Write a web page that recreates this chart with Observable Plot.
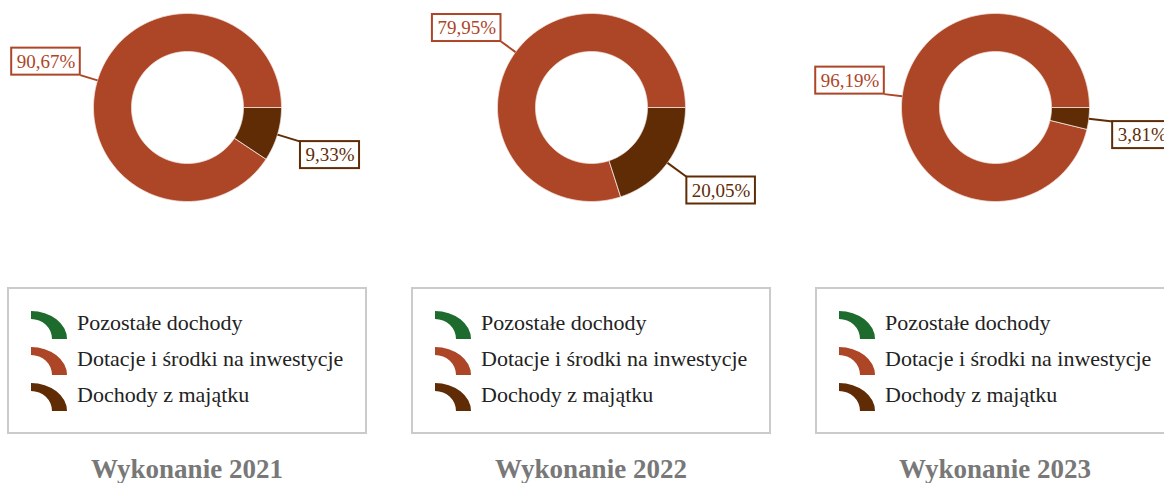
<!DOCTYPE html>
<html><head><meta charset="utf-8">
<script src="https://cdn.jsdelivr.net/npm/d3@7"></script>
<script src="https://cdn.jsdelivr.net/npm/@observablehq/plot@0.6"></script>
<style>
body{margin:0;width:1164px;height:483px;overflow:hidden;background:#fff;font-family:"Liberation Serif","Times New Roman",serif;position:relative;}
.panel{position:absolute;top:0;width:404px;height:483px;}
.panel svg{overflow:visible;}
.chart{position:absolute;left:0;top:0;}
.legend{position:absolute;left:7px;top:287px;width:356px;height:143px;border:2px solid #cbcbcb;}
.sw{position:absolute;left:31px;width:37px;height:29px;}
.lt{position:absolute;left:77px;font-size:22px;line-height:22px;color:#222;white-space:nowrap;}
.title{position:absolute;left:0;width:374px;text-align:center;font-weight:bold;font-size:27px;line-height:27px;color:#787878;white-space:nowrap;}
</style></head>
<body>
<script>
// ---- data ----
const categories = ["Pozostałe dochody", "Dotacje i środki na inwestycje", "Dochody z majątku"];
const colors = ["#1e6b2e", "#ad4527", "#5f2c06"];
const years = ["2021", "2022", "2023"];
const pozostale = [0, 0, 0];
const dotacje = [90.67, 79.95, 96.19];
const majatek = [9.33, 20.05, 3.81];
const titlePrefix = "Wykonanie";

// ---- layout ----
const panelW = 404, cx = 187, cy = 107, R = 94, Rin = 56;
const labelFont = 19, boxPadX = 5, boxH = 27;
const canvas = document.createElement("canvas");
const ctx = canvas.getContext("2d");
ctx.font = `${labelFont}px "Liberation Serif"`;
const fmt = v => v.toFixed(2).replace(".", ",") + "%";

years.forEach((year, i) => {
  const panel = document.createElement("div");
  panel.className = "panel";
  panel.style.left = (i * panelW) + "px";
  document.body.appendChild(panel);

  // slices in drawing order: from 3 o'clock clockwise
  const slices = [
    {category: categories[2], value: majatek[i]},
    {category: categories[1], value: dotacje[i]},
    {category: categories[0], value: pozostale[i]}
  ];
  const pie = d3.pie().sort(null).value(d => d.value)
    .startAngle(Math.PI / 2).endAngle(Math.PI / 2 + 2 * Math.PI)(slices);

  const r0 = Rin / R;
  const poly = [];
  const labels = [];
  pie.forEach((p, k) => {
    if (p.data.value <= 0) return;
    const n = Math.max(2, Math.ceil((p.endAngle - p.startAngle) / 0.01));
    const angs = d3.range(n + 1).map(j => p.startAngle + (p.endAngle - p.startAngle) * j / n);
    angs.forEach(a => poly.push({key: k, category: p.data.category, x: Math.sin(a), y: Math.cos(a)}));
    angs.slice().reverse().forEach(a => poly.push({key: k, category: p.data.category, x: r0 * Math.sin(a), y: r0 * Math.cos(a)}));

    const m = (p.startAngle + p.endAngle) / 2;
    const right = Math.sin(m) > 0;
    const len = right ? 24 : 18;
    const r2 = 1 + len / R;
    const ax = r2 * Math.sin(m), ay = r2 * Math.cos(m);
    const text = fmt(p.data.value);
    const w = (ctx.measureText(text).width + 2 * boxPadX) / R;
    const h = boxH / R;
    let x1, x2, yt, yb;
    if (right) { x1 = ax; x2 = ax + w; yt = ay; yb = ay - h; }
    else { x2 = ax; x1 = ax - w; yb = ay; yt = ay + h; }
    labels.push({category: p.data.category, text,
      ex: Math.sin(m), ey: Math.cos(m), ax, ay, x1, x2, y1: yb, y2: yt,
      tx: (x1 + x2) / 2, ty: (yt + yb) / 2});
  });

  const chart = Plot.plot({
    width: panelW, height: 220, margin: 0,
    x: {domain: [-1, 1], range: [cx - R, cx + R], axis: null},
    y: {domain: [-1, 1], range: [cy + R, cy - R], axis: null},
    color: {domain: categories, range: colors},
    style: {background: "transparent", overflow: "visible"},
    marks: [
      Plot.line(poly, {x: "x", y: "y", z: "key", fill: "category", stroke: "#f4e6e0", strokeWidth: 0.8, curve: "linear-closed"}),
      Plot.link(labels, {x1: "ex", y1: "ey", x2: "ax", y2: "ay", stroke: "category", strokeWidth: 2}),
      Plot.rect(labels, {x1: "x1", x2: "x2", y1: "y1", y2: "y2", fill: "white", stroke: "category", strokeWidth: 2}),
      Plot.text(labels, {x: "tx", y: "ty", text: "text", fill: "category", fontSize: labelFont, fontFamily: "Liberation Serif"})
    ]
  });
  chart.classList.add("chart");
  panel.appendChild(chart);

  // legend
  const legend = document.createElement("div");
  legend.className = "legend";
  panel.appendChild(legend);
  const baselines = [330, 366, 402];
  categories.forEach((c, k) => {
    const sw = document.createElementNS("http://www.w3.org/2000/svg", "svg");
    sw.setAttribute("class", "sw");
    sw.setAttribute("viewBox", "0 0 37 29");
    sw.style.top = (baselines[k] - 19) + "px";
    const path = document.createElementNS("http://www.w3.org/2000/svg", "path");
    path.setAttribute("d", "M0,0 A36,28 0 0 1 36,28 L21,28 A21,20 0 0 0 0,8 Z");
    path.setAttribute("fill", colors[k]);
    sw.appendChild(path);
    panel.appendChild(sw);
    const t = document.createElement("div");
    t.className = "lt";
    t.textContent = c;
    t.style.top = (baselines[k] - 18.4) + "px";
    panel.appendChild(t);
  });

  const title = document.createElement("div");
  title.className = "title";
  title.textContent = titlePrefix + " " + year;
  title.style.top = (479 - 0.8375 * 27) + "px";
  panel.appendChild(title);
});
</script>
</body></html>
